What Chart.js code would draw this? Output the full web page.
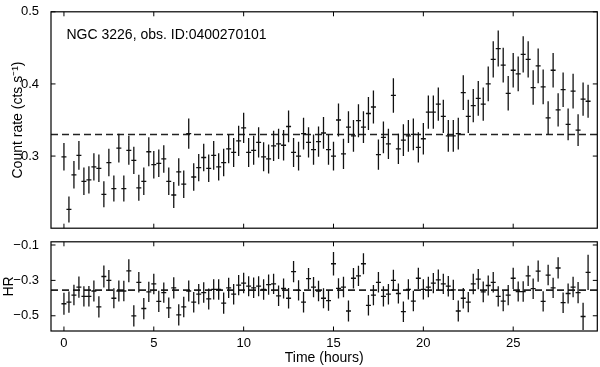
<!DOCTYPE html>
<html><head><meta charset="utf-8">
<script src="https://cdn.jsdelivr.net/npm/chart.js@4.4.0/dist/chart.umd.min.js"></script>
<style>
html,body{margin:0;padding:0;background:#fff;}
#wrap{position:relative;width:600px;height:367px;background:#fff;}
#c1{position:absolute;left:0;top:0;width:600px;height:240px;}
#c2{position:absolute;left:0;top:230px;width:600px;height:137px;}
</style></head><body>
<div id="wrap"><canvas id="c1" width="600" height="240"></canvas><canvas id="c2" width="600" height="137"></canvas></div>
<script>
// ---- data ----
const times = [0.000,0.278,0.556,0.833,1.111,1.389,1.667,1.944,2.222,2.500,2.778,3.056,3.333,3.611,3.889,4.167,4.444,4.722,5.000,5.278,5.556,5.833,6.111,6.389,6.667,6.944,7.222,7.500,7.778,8.056,8.333,8.611,8.889,9.167,9.444,9.722,10.000,10.278,10.556,10.833,11.111,11.389,11.667,11.944,12.222,12.500,12.778,13.056,13.333,13.611,13.889,14.167,14.444,14.722,15.000,15.278,15.556,15.833,16.111,16.389,16.667,16.944,17.222,17.500,17.778,18.056,18.333,18.611,18.889,19.167,19.444,19.722,20.000,20.278,20.556,20.833,21.111,21.389,21.667,21.944,22.222,22.500,22.778,23.056,23.333,23.611,23.889,24.167,24.444,24.722,25.000,25.278,25.556,25.833,26.111,26.389,26.667,26.944,27.222,27.500,27.778,28.056,28.333,28.611,28.889,29.167];
const binHalfWidth = 0.139;
const countRate = [0.299,0.226,0.274,0.301,0.265,0.267,0.285,0.283,0.247,0.291,0.255,0.311,0.255,0.308,0.294,0.256,0.265,0.306,0.288,0.290,0.296,0.265,0.246,0.278,0.261,0.331,0.271,0.284,0.298,0.283,0.301,0.285,0.291,0.310,0.305,0.321,0.339,0.305,0.308,0.319,0.299,0.296,0.314,0.317,0.315,0.341,0.305,0.300,0.331,0.319,0.309,0.320,0.332,0.309,0.300,0.350,0.303,0.340,0.328,0.349,0.340,0.359,0.368,0.302,0.326,0.317,0.384,0.310,0.322,0.328,0.330,0.312,0.324,0.361,0.361,0.372,0.355,0.328,0.328,0.331,0.388,0.355,0.370,0.380,0.372,0.400,0.434,0.449,0.426,0.387,0.419,0.414,0.441,0.434,0.395,0.425,0.396,0.353,0.419,0.364,0.392,0.344,0.390,0.336,0.379,0.376];
const countRateErr = [0.019,0.018,0.019,0.020,0.019,0.019,0.019,0.019,0.018,0.019,0.018,0.020,0.018,0.020,0.019,0.018,0.019,0.020,0.019,0.019,0.019,0.019,0.018,0.019,0.019,0.021,0.019,0.019,0.019,0.019,0.020,0.019,0.019,0.020,0.020,0.021,0.021,0.020,0.020,0.021,0.020,0.020,0.021,0.021,0.021,0.022,0.020,0.020,0.022,0.021,0.021,0.021,0.022,0.021,0.020,0.023,0.021,0.022,0.022,0.023,0.022,0.023,0.023,0.021,0.022,0.021,0.024,0.021,0.022,0.022,0.022,0.021,0.022,0.023,0.023,0.023,0.023,0.022,0.022,0.022,0.024,0.023,0.023,0.024,0.023,0.024,0.025,0.025,0.024,0.024,0.024,0.024,0.025,0.025,0.024,0.024,0.024,0.023,0.024,0.023,0.024,0.022,0.024,0.022,0.023,0.023];
const hardness = [-0.432,-0.423,-0.383,-0.338,-0.390,-0.390,-0.360,-0.450,-0.278,-0.300,-0.401,-0.360,-0.360,-0.246,-0.500,-0.311,-0.459,-0.365,-0.320,-0.419,-0.369,-0.455,-0.342,-0.495,-0.450,-0.360,-0.423,-0.378,-0.369,-0.405,-0.351,-0.351,-0.428,-0.342,-0.378,-0.327,-0.315,-0.333,-0.342,-0.333,-0.351,-0.324,-0.320,-0.387,-0.346,-0.401,-0.250,-0.356,-0.423,-0.290,-0.338,-0.360,-0.401,-0.414,-0.206,-0.345,-0.338,-0.473,-0.288,-0.275,-0.206,-0.441,-0.383,-0.311,-0.390,-0.378,-0.300,-0.374,-0.477,-0.351,-0.417,-0.288,-0.351,-0.338,-0.315,-0.297,-0.320,-0.333,-0.354,-0.473,-0.401,-0.423,-0.320,-0.293,-0.365,-0.329,-0.311,-0.390,-0.417,-0.383,-0.288,-0.363,-0.363,-0.275,-0.347,-0.248,-0.419,-0.270,-0.342,-0.230,-0.426,-0.374,-0.338,-0.369,-0.504,-0.255];
const hardnessErr = [0.062,0.060,0.058,0.060,0.057,0.058,0.059,0.060,0.062,0.058,0.057,0.060,0.058,0.065,0.060,0.058,0.060,0.057,0.058,0.060,0.057,0.058,0.060,0.060,0.058,0.059,0.058,0.057,0.058,0.059,0.057,0.058,0.060,0.057,0.058,0.057,0.058,0.057,0.058,0.057,0.058,0.057,0.057,0.058,0.057,0.058,0.060,0.057,0.058,0.060,0.057,0.058,0.057,0.058,0.066,0.057,0.058,0.060,0.058,0.057,0.060,0.058,0.057,0.058,0.057,0.058,0.060,0.057,0.058,0.057,0.058,0.060,0.057,0.058,0.057,0.058,0.057,0.058,0.057,0.060,0.058,0.057,0.058,0.057,0.058,0.057,0.058,0.057,0.058,0.057,0.060,0.057,0.058,0.057,0.058,0.060,0.057,0.058,0.057,0.060,0.058,0.057,0.058,0.060,0.077,0.100];
const meanRate = 0.330;
const meanHardness = -0.355;
const xTicks = [0, 5, 10, 15, 20, 25];
const rateTicks = [0.3, 0.4, 0.5];
const hardnessTicks = [-0.1, -0.3, -0.5];
const xRange = [-0.72, 29.68];
const rateRange = [0.2, 0.5];
const hardnessRange = [-0.586, -0.082];
const annotation = 'NGC 3226, obs. ID:0400270101';

// ---- styling ----
const FONT = "'Liberation Sans', Arial, Helvetica, sans-serif";
Chart.defaults.font.family = FONT;
Chart.defaults.color = '#000';

function errorBarPlugin(vals, errs) {
  return {
    id: 'errbars',
    afterDatasetsDraw(chart) {
      const {ctx, chartArea: a, scales: {x, y}} = chart;
      const meta = chart.getDatasetMeta(1);
      ctx.save();
      ctx.beginPath(); ctx.rect(a.left, a.top, a.right - a.left, a.bottom - a.top); ctx.clip();
      ctx.strokeStyle = '#111'; ctx.lineWidth = 1.3;
      ctx.beginPath();
      meta.data.forEach((pt, i) => {
        const x0 = x.getPixelForValue(times[i] - binHalfWidth), x1 = x.getPixelForValue(times[i] + binHalfWidth);
        const y0 = y.getPixelForValue(vals[i] - errs[i]), y1 = y.getPixelForValue(vals[i] + errs[i]);
        ctx.moveTo(x0, pt.y); ctx.lineTo(x1, pt.y);
        ctx.moveTo(pt.x, y0); ctx.lineTo(pt.x, y1);
      });
      ctx.stroke();
      ctx.restore();
    }
  };
}
function framePlugin(yTicks, text) {
  return {
    id: 'frame',
    afterDraw(chart) {
      const {ctx, chartArea: a, scales: {x, y}} = chart;
      const tl = 4.5;
      ctx.save();
      ctx.strokeStyle = '#000'; ctx.lineWidth = 1.2;
      ctx.strokeRect(a.left, a.top, a.right - a.left, a.bottom - a.top);
      ctx.beginPath();
      xTicks.forEach(v => { const p = x.getPixelForValue(v);
        ctx.moveTo(p, a.top); ctx.lineTo(p, a.top + tl);
        ctx.moveTo(p, a.bottom); ctx.lineTo(p, a.bottom - tl); });
      yTicks.forEach(v => { const p = y.getPixelForValue(v);
        ctx.moveTo(a.left, p); ctx.lineTo(a.left + tl, p);
        ctx.moveTo(a.right, p); ctx.lineTo(a.right - tl, p); });
      ctx.lineWidth = 1; ctx.stroke();
      if (text) {
        ctx.fillStyle = '#000'; ctx.font = '14px ' + FONT;
        ctx.textAlign = 'left'; ctx.textBaseline = 'alphabetic';
        ctx.fillText(text, a.left + 15.5, a.top + 27.5);
      }
      ctx.restore();
    }
  };
}
function makeChart(id, vals, errs, mean, yRange, yTicks, yTitle, yTitlePad, showX, padding, text, yFmt) {
  return new Chart(document.getElementById(id), {
    type: 'scatter',
    data: { datasets: [
      { data: [{x: xRange[0], y: mean}, {x: xRange[1], y: mean}], showLine: true, borderColor: '#222',
        borderWidth: 1.6, borderDash: [7, 4], pointRadius: 0 },
      { data: times.map((t, i) => ({x: t, y: vals[i]})), pointRadius: 0, showLine: false }
    ]},
    options: {
      responsive: false, devicePixelRatio: 1, animation: false,
      layout: { padding },
      plugins: { legend: {display: false}, tooltip: {enabled: false} },
      scales: {
        x: { type: 'linear', min: xRange[0], max: xRange[1], display: showX,
          afterBuildTicks: s => { s.ticks = xTicks.map(v => ({value: v})); },
          afterFit: s => { if (showX) s.height = 36; },
          grid: {display: false}, border: {display: false},
          ticks: { font: {size: 13}, padding: -3, color: '#000', maxRotation: 0 },
          title: { display: showX, text: 'Time (hours)', font: {size: 14}, color: '#000', padding: {top: 0, bottom: 0.5} } },
        y: { type: 'linear', min: yRange[0], max: yRange[1],
          afterBuildTicks: s => { s.ticks = yTicks.map(v => ({value: v})); },
          afterFit: s => { s.width = 51; },
          grid: {display: false}, border: {display: false},
          ticks: { font: {size: 13}, padding: 4, color: '#000', callback: yFmt },
          title: { display: true, text: yTitle, font: {size: 14}, color: '#000', padding: {top: yTitlePad, bottom: 0} } }
      }
    },
    plugins: [errorBarPlugin(vals, errs), framePlugin(yTicks, text)]
  });
}
makeChart('c1', countRate, countRateErr, meanRate, rateRange, rateTicks, 'Count rate (cts s\u207B\u00B9)', 10, false,
  {top: 7, right: 2.7, bottom: 10.5, left: 0}, annotation, v => v.toFixed(1));
makeChart('c2', hardness, hardnessErr, meanHardness, hardnessRange, hardnessTicks, 'HR', 1, true,
  {top: 7.3, right: 2.7, bottom: 0, left: 0}, null, v => (v < 0 ? '\u2212' : '') + Math.abs(v).toFixed(1));
</script>
</body></html>
